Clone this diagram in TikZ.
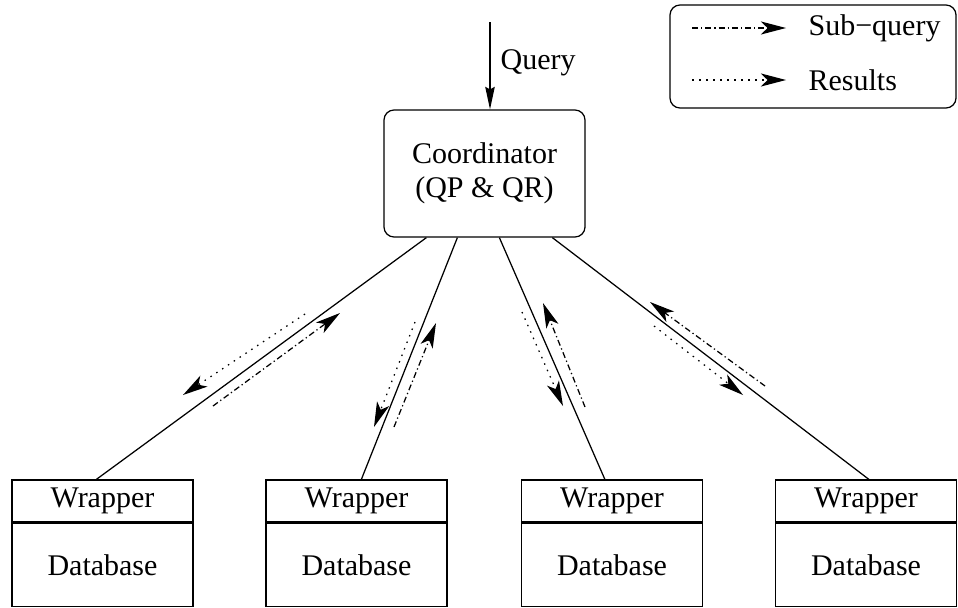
\documentclass[tikz,border=0pt]{standalone}
\usepackage{fontspec}
\setmainfont{Liberation Serif}
\usetikzlibrary{arrows.meta,positioning,calc}

\tikzset{
  coordbox/.style={draw, rounded corners=4pt, align=center, minimum width=80.4pt, minimum height=50.8pt, inner sep=0pt},
  wrapbox/.style={draw, minimum width=72.4pt, minimum height=16.8pt, inner sep=0pt},
  dbbox/.style={draw, minimum width=72.4pt, minimum height=33.2pt, inner sep=0pt},
  legendbox/.style={draw, rounded corners=4pt, minimum width=114.4pt, minimum height=41.2pt},
  lbl/.style={anchor=west, inner sep=0pt},
  tip/.style={-{Stealth[length=10pt,width=5.2pt,inset=2.6pt]}},
  subq/.style={tip, dash pattern=on 2.4pt off 1.2pt on 0.5pt off 1.2pt},
  res/.style={tip, dash pattern=on 0.6pt off 2.2pt},
  qarrow/.style={-{Stealth[length=9pt,width=3.8pt,inset=1pt]}}
}

\begin{document}
\begin{tikzpicture}[x=0.4pt,y=-0.4pt,line width=0.5pt,font=\fontsize{12}{13.5}\selectfont]
  \useasboundingbox (0,0) rectangle (958,607);

  % coordinator and incoming query
  \node[coordbox] (coord) at (484.5,173.5) {Coordinator\\(QP \& QR)};
  \coordinate (qtop) at (490,22);
  \draw[qarrow] (qtop) -- (qtop |- coord.north);
  \node[lbl] (qlabel) at (500,63) {Query};

  % wrappers and databases
  \foreach \i/\x in {1/102.5,2/356.5,3/612,4/866}{
    \node[wrapbox] (w\i) at (\x,501) {Wrapper};
    \node[dbbox, below=0pt of w\i] (d\i) {Database};
  }
  \foreach \i/\s/\e in {1/43/85,2/74/96,3/116/84,4/169/94}
    \draw ($(coord.south west)+(\s,0)$) -- ($(w\i.north west)+(\e,0)$);

  % sub-queries and results along the links
  \coordinate (ra1) at (305,314); \coordinate (rb1) at (183,395);
  \coordinate (ra2) at (415,322); \coordinate (rb2) at (374,427);
  \coordinate (ra3) at (522,312); \coordinate (rb3) at (563,406);
  \coordinate (ra4) at (654,326); \coordinate (rb4) at (743,395);
  \coordinate (sa1) at (213,406); \coordinate (sb1) at (340,313);
  \coordinate (sa2) at (394,427); \coordinate (sb2) at (436,323);
  \coordinate (sa3) at (585,407); \coordinate (sb3) at (543,303);
  \coordinate (sa4) at (765,386); \coordinate (sb4) at (650,302);
  \foreach \i in {1,...,4}{
    \draw[res] (ra\i) -- (rb\i);
    \draw[subq] (sa\i) -- (sb\i);
  }

  % legend
  \node[legendbox] (legend) at (813,56.5) {};
  \node[lbl] (lsub) at (808,28) {Sub−query};
  \node[lbl] (lres) at (808,80) {Results};
  \draw[subq] ($(lsub.west)+(-116,0)$) -- ($(lsub.west)+(-22,0)$);
  \draw[res] ($(lres.west)+(-116,0)$) -- ($(lres.west)+(-22,0)$);
\end{tikzpicture}
\end{document}
